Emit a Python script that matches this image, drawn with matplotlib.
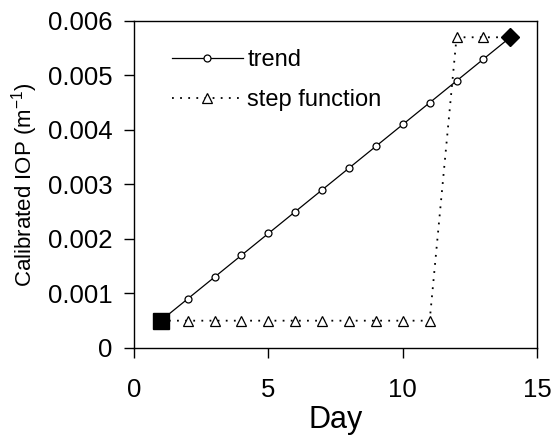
import matplotlib as mpl
mpl.use("Agg")
import matplotlib.pyplot as plt
from matplotlib.lines import Line2D

days = [1, 2, 3, 4, 5, 6, 7, 8, 9, 10, 11, 12, 13, 14]
trend = [0.0005, 0.0009, 0.0013, 0.0017, 0.0021, 0.0025, 0.0029,
         0.0033, 0.0037, 0.0041, 0.0045, 0.0049, 0.0053, 0.0057]
step = [0.0005, 0.0005, 0.0005, 0.0005, 0.0005, 0.0005, 0.0005,
        0.0005, 0.0005, 0.0005, 0.0005, 0.0057, 0.0057, 0.0057]

plt.rcParams["font.family"] = ["Liberation Sans", "DejaVu Sans"]
plt.rcParams["mathtext.fontset"] = "custom"
plt.rcParams["mathtext.rm"] = "Liberation Sans"

fig = plt.figure(figsize=(5.51, 4.36), dpi=100)
ax = fig.add_axes([0.243, 0.202, 0.732, 0.750])

DOT = (0, (1, 3.5))
ax.plot(days, trend, color="black", linewidth=0.9, zorder=2)
ax.plot(days[1:-1], trend[1:-1], linestyle="none", marker="o", markersize=5,
        markerfacecolor="white", markeredgecolor="black", markeredgewidth=0.9, zorder=3)
ax.plot(days, step, color="black", linewidth=1.3, linestyle=DOT, zorder=2)
ax.plot(days[1:-1], step[1:-1], linestyle="none", marker="^", markersize=6.5,
        markerfacecolor="white", markeredgecolor="black", markeredgewidth=0.9, zorder=3)
# end points
ax.plot(days[0], step[0], marker="s", markersize=12, color="black", zorder=4)
ax.plot(days[-1], trend[-1], marker="D", markersize=9.5, color="black", zorder=4)

ax.set_xlim(0, 15)
ax.set_ylim(0, 0.006)
ax.set_xticks([0, 5, 10, 15])
ax.set_yticks([0, 0.001, 0.002, 0.003, 0.004, 0.005, 0.006])
ax.set_yticklabels(["0", "0.001", "0.002", "0.003", "0.004", "0.005", "0.006"])
ax.tick_params(direction="out", length=7.2, width=1, labelsize=18.5)
ax.tick_params(axis="x", pad=14.5)
ax.tick_params(axis="y", pad=8)
for s in ax.spines.values():
    s.set_linewidth(1)

ax.set_xlabel("Day", fontsize=22, labelpad=2)
ax.set_ylabel("Calibrated IOP (m$^{-1}$)", fontsize=16, labelpad=6)

handles = [
    Line2D([], [], color="black", linewidth=0.9, marker="o", markersize=5,
           markerfacecolor="white", markeredgewidth=0.9),
    Line2D([], [], color="black", linewidth=1.3, linestyle=DOT, marker="^",
           markersize=6.5, markerfacecolor="white", markeredgewidth=0.9),
]
ax.legend(handles, ["trend", "step function"], loc="upper left", frameon=False,
          fontsize=17, handlelength=3.0, handletextpad=0.2, labelspacing=0.76,
          borderpad=0, borderaxespad=0, bbox_to_anchor=(0.094, 0.914))

fig.savefig("out.png", dpi=100)
